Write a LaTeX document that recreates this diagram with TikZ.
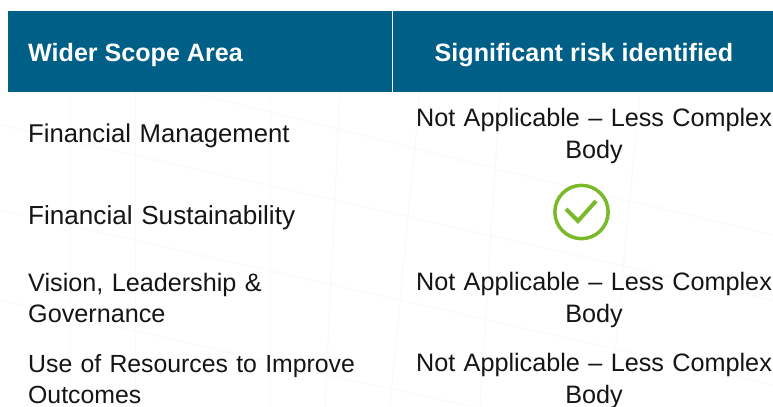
\documentclass[tikz,border=0pt]{standalone}
\usepackage{fontspec}
\setmainfont{Liberation Sans}
\definecolor{hdr}{HTML}{005F87}
\definecolor{tick}{HTML}{7AB929}
\definecolor{txt}{HTML}{151515}
\definecolor{faint}{HTML}{F9F9F9}
\tikzset{
 hd/.style={font=\fontsize{25.2pt}{28pt}\bfseries\selectfont,text=white,inner sep=0pt},
 cell/.style={font=\fontsize{#1}{31.5pt}\selectfont,text=txt,inner sep=0pt,align=left,text width=400pt,anchor=west},
 cc/.style={font=\fontsize{25.3pt}{32pt}\selectfont,text=txt,inner sep=0pt,align=center,text width=380pt},
 bgline/.style={faint,line width=1pt},
}
\begin{document}
\begin{tikzpicture}[x=1bp,y=-1bp]
\useasboundingbox (0,0) rectangle (773,406);
\fill[white] (0,0) rectangle (773,406);
\draw[bgline] (0,125) -- (400,215) -- (773,300);
\draw[bgline] (0,210) -- (400,300) -- (773,385);
\draw[bgline] (190,92) -- (500,170) -- (773,235);
\draw[bgline] (0,300) -- (350,380) -- (470,406);
\draw[bgline] (70,92) -- (70,406);
\draw[bgline] (135,92) -- (135,406);
\draw[bgline] (270,92) -- (270,406);
\draw[bgline] (340,92) -- (325,406);
\draw[bgline] (420,92) -- (390,406);
\draw[bgline] (500,92) -- (480,406);
\draw[bgline] (640,92) -- (610,406);
\fill[hdr] (8,11) rectangle (773,92);
\draw[white,line width=1pt] (392,11) -- (392,92);
\node[hd,anchor=west] (h1) at (28,55) {Wider Scope Area};
\node[hd] (h2) at (584,55) {Significant risk identified};
\node[cell=25.8pt] (a1) at (28,136) {Financial Management};
\node[cc] (b1) at (594,136) {Not Applicable – Less Complex\\Body};
\node[cell=26.2pt] (a2) at (28,218) {Financial Sustainability};
\node[draw=tick,line width=3.5pt,circle,minimum size=53.5pt,inner sep=0pt] (t) at (581.5,212) {};
\draw[tick,line width=4pt,line join=miter] (566,209) -- (578,221) -- (596,201);
\node[cell=25.3pt] (a3) at (28,298) {Vision, Leadership \&\\Governance};
\node[cc] (b3) at (594,300) {Not Applicable – Less Complex\\Body};
\node[cell=24.9pt] (a4) at (28,379) {Use of Resources to Improve\\Outcomes};
\node[cc] (b4) at (594,381) {Not Applicable – Less Complex\\Body};
\end{tikzpicture}
\end{document}
